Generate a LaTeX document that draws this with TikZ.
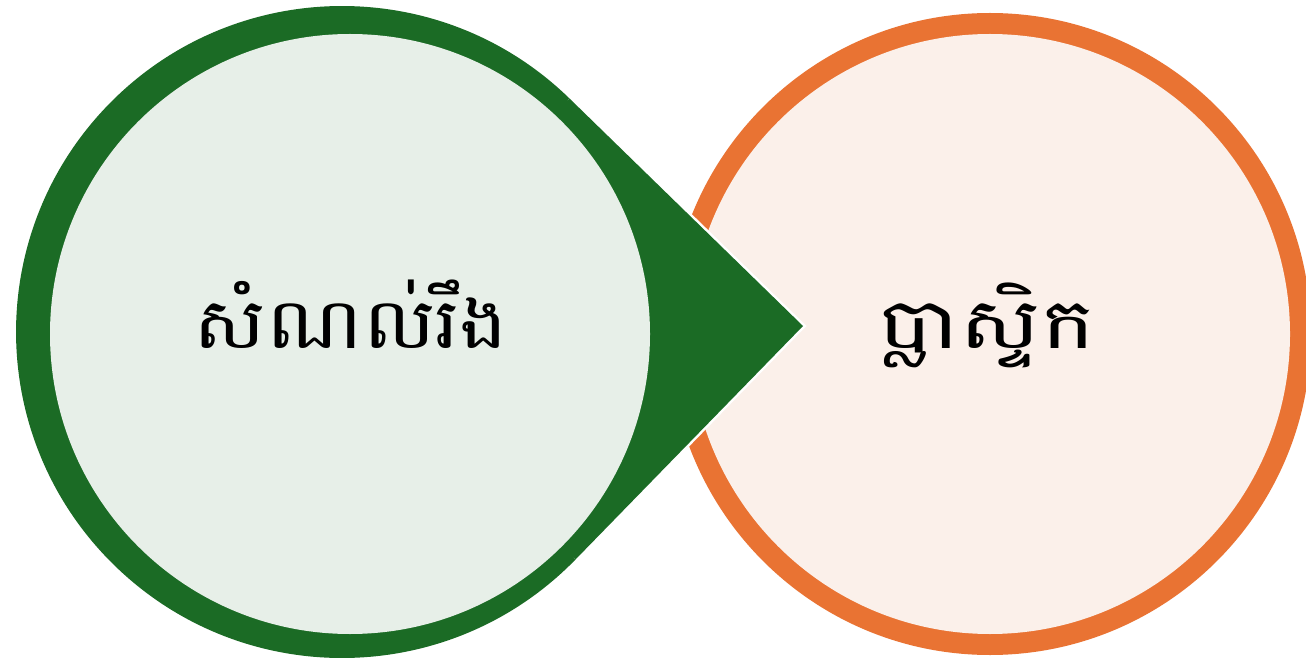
\documentclass[tikz,border=0pt]{standalone}
\usepackage{fontspec}
\newfontfamily\khmerfont[Script=Khmer]{Battambang}
\definecolor{darkgreen}{HTML}{1B6B25}
\definecolor{lightgreen}{HTML}{E7EFE8}
\definecolor{orangering}{HTML}{E97333}
\definecolor{lightorange}{HTML}{FBF0EA}
\tikzset{
  label text/.style={font=\khmerfont\fontsize{70}{84}\selectfont, text=black, anchor=base, inner sep=0pt, transform shape},
}
\begin{document}
\begin{tikzpicture}[x=1pt,y=-1pt]
\clip (0,0) rectangle (1306,660);
\fill[white] (0,0) rectangle (1306,660);
% orange ring
\fill[orangering] (990,334) circle[radius=321];
\fill[lightorange] (990,334) circle[radius=300];
% green teardrop
\coordinate (tip) at (803,326);
\fill[darkgreen] (tip) -- (569.5,98.5) arc[start angle=-45.75, end angle=-315.75, radius=326] -- cycle;
\draw[white, line width=5pt, line join=miter] (569.5,98.5) -- (tip) -- (575.5,559.5);
\fill[darkgreen] (tip) -- (569.5,98.5) -- (342,332) -- (575.5,559.5) -- cycle;
\fill[lightgreen] (350,334) circle[radius=300];
% labels
\node[label text, xscale=1.16] (solid) at (351,348) {សំណល់រឹង};
\node[label text, xscale=1.3] (plastic) at (987,348) {ប្លាស្ទិក};
\end{tikzpicture}
\end{document}
